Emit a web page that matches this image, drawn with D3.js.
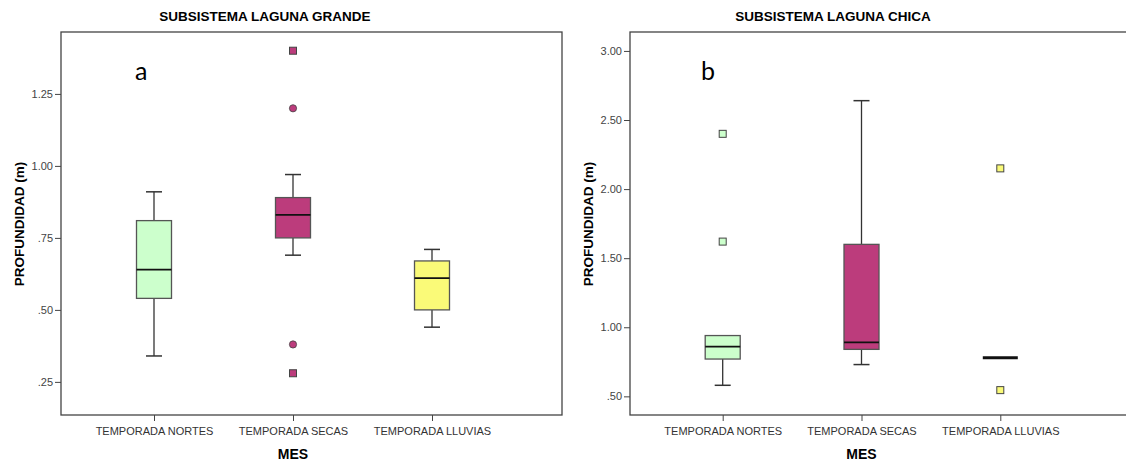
<!DOCTYPE html>
<meta charset="utf-8">
<script src="https://d3js.org/d3.v7.min.js"></script>
<style>
  body { margin: 0; background: #fff; }
  text { font-family: "Liberation Sans", Arial, sans-serif; }
  .tick line { stroke: #444; }
  .domain { display: none; }
</style>
<div id="chart"></div>
<script>
  // categories + colors
  const categories = ["TEMPORADA NORTES", "TEMPORADA SECAS", "TEMPORADA LLUVIAS"]
  const colors = ["#ccffcc", "#bc3c7c", "#fafa78"]

  // Laguna Grande (panel a) - five number summaries
  const lgMin = [0.34, 0.69, 0.44]
  const lgQ1 = [0.54, 0.75, 0.50]
  const lgMed = [0.64, 0.83, 0.61]
  const lgQ3 = [0.81, 0.89, 0.67]
  const lgMax = [0.91, 0.97, 0.71]
  // outliers: [category index, value, shape]
  const lgOut = [[1, 1.40, "square"], [1, 1.20, "circle"], [1, 0.38, "circle"], [1, 0.28, "square"]]
  const lgTicks = [0.25, 0.50, 0.75, 1.00, 1.25]

  // Laguna Chica (panel b)
  const lcMin = [0.58, 0.73, 0.78]
  const lcQ1 = [0.77, 0.84, 0.78]
  const lcMed = [0.86, 0.89, 0.78]
  const lcQ3 = [0.94, 1.60, 0.78]
  const lcMax = [0.94, 2.64, 0.78]
  const lcOut = [[0, 2.40, "square"], [0, 1.62, "square"], [2, 2.15, "square"], [2, 0.545, "square"]]
  const lcTicks = [0.50, 1.00, 1.50, 2.00, 2.50, 3.00]

  const W = 1126, H = 463
  const plotTop = 32, plotBottom = 415

  const svg = d3.select("#chart").append("svg")
    .attr("width", W).attr("height", H)

  const fmt = v => d3.format(".2f")(v).replace(/^0\./, ".")

  function panel(opt) {
    const g = svg.append("g")

    const y = d3.scaleLinear().domain(opt.domain).range([plotBottom, plotTop])
    const x = d3.scalePoint().domain(categories).range(opt.xRange)

    // frame
    g.append("rect")
      .attr("x", opt.left).attr("y", plotTop)
      .attr("width", opt.right - opt.left).attr("height", plotBottom - plotTop)
      .attr("fill", "none").attr("stroke", "#444").attr("stroke-width", 1.3)

    // y axis
    g.append("g")
      .attr("transform", `translate(${opt.left},0)`)
      .call(d3.axisLeft(y).tickValues(opt.ticks).tickFormat(fmt).tickSize(6).tickPadding(2))
      .selectAll(".tick text").attr("fill", "#444").style("font-size", "11px")

    // x axis
    g.append("g")
      .attr("transform", `translate(0,${plotBottom})`)
      .call(d3.axisBottom(x).tickSize(6).tickPadding(6))
      .selectAll(".tick text").attr("fill", "#333").style("font-size", "11px")

    const boxW = 35, capW = 16

    const stats = categories.map((c, i) => ({
      c: c, i: i, min: opt.min[i], q1: opt.q1[i], med: opt.med[i], q3: opt.q3[i], max: opt.max[i]
    }))

    const box = g.selectAll(".box").data(stats).join("g").attr("class", "box")

    // whiskers
    box.append("line")
      .attr("x1", d => x(d.c)).attr("x2", d => x(d.c))
      .attr("y1", d => y(d.max)).attr("y2", d => y(d.q3))
      .attr("stroke", "#333").attr("stroke-width", 1.3)
    box.append("line")
      .attr("x1", d => x(d.c)).attr("x2", d => x(d.c))
      .attr("y1", d => y(d.q1)).attr("y2", d => y(d.min))
      .attr("stroke", "#333").attr("stroke-width", 1.3)
    box.filter(d => d.max > d.q3).append("line")
      .attr("x1", d => x(d.c) - capW / 2).attr("x2", d => x(d.c) + capW / 2)
      .attr("y1", d => y(d.max)).attr("y2", d => y(d.max))
      .attr("stroke", "#333").attr("stroke-width", 1.5)
    box.filter(d => d.min < d.q1).append("line")
      .attr("x1", d => x(d.c) - capW / 2).attr("x2", d => x(d.c) + capW / 2)
      .attr("y1", d => y(d.min)).attr("y2", d => y(d.min))
      .attr("stroke", "#333").attr("stroke-width", 1.5)

    // box
    box.filter(d => d.q3 > d.q1).append("rect")
      .attr("x", d => x(d.c) - boxW / 2).attr("width", boxW)
      .attr("y", d => y(d.q3)).attr("height", d => y(d.q1) - y(d.q3))
      .attr("fill", d => colors[d.i]).attr("stroke", "#555").attr("stroke-width", 1.3)

    // median
    box.append("line")
      .attr("x1", d => x(d.c) - boxW / 2).attr("x2", d => x(d.c) + boxW / 2)
      .attr("y1", d => y(d.med)).attr("y2", d => y(d.med))
      .attr("stroke", "#111").attr("stroke-width", d => d.q3 > d.q1 ? 1.8 : 3)

    // outliers
    g.selectAll(".sq").data(opt.out.filter(d => d[2] == "square")).join("rect")
      .attr("x", d => x(categories[d[0]]) - 3.5).attr("y", d => y(d[1]) - 3.5)
      .attr("width", 7).attr("height", 7)
      .attr("fill", d => colors[d[0]]).attr("stroke", "#444").attr("stroke-width", 1)
    g.selectAll(".ci").data(opt.out.filter(d => d[2] == "circle")).join("circle")
      .attr("cx", d => x(categories[d[0]])).attr("cy", d => y(d[1]))
      .attr("r", 3.6)
      .attr("fill", d => colors[d[0]]).attr("stroke", "#444").attr("stroke-width", 0.8)

    // titles
    svg.append("text").attr("x", opt.titleX).attr("y", 21)
      .attr("text-anchor", "middle").style("font-size", "13.5px").style("font-weight", "bold")
      .text(opt.title)
    svg.append("text").attr("x", x(categories[1])).attr("y", 459)
      .attr("text-anchor", "middle").style("font-size", "14px").style("font-weight", "bold")
      .text("MES")
    svg.append("text")
      .attr("transform", `translate(${opt.yTitleX},224) rotate(-90)`)
      .attr("text-anchor", "middle").style("font-size", "13.5px").style("font-weight", "bold")
      .text("PROFUNDIDAD (m)")
    svg.append("text").attr("x", opt.letterX).attr("y", 80)
      .style("font-family", "Lato, 'Open Sans', sans-serif").style("font-size", "25px")
      .text(opt.letter)
  }

  panel({
    left: 61, right: 562, xRange: [154, 432], domain: [0.135, 1.465], ticks: lgTicks,
    min: lgMin, q1: lgQ1, med: lgMed, q3: lgQ3, max: lgMax, out: lgOut,
    title: "SUBSISTEMA LAGUNA GRANDE", titleX: 265, yTitleX: 24, letter: "a", letterX: 135
  })
  panel({
    left: 630, right: 1131, xRange: [722.7, 1000.3], domain: [0.365, 3.137], ticks: lcTicks,
    min: lcMin, q1: lcQ1, med: lcMed, q3: lcQ3, max: lcMax, out: lcOut,
    title: "SUBSISTEMA LAGUNA CHICA", titleX: 833, yTitleX: 593, letter: "b", letterX: 701
  })
</script>
